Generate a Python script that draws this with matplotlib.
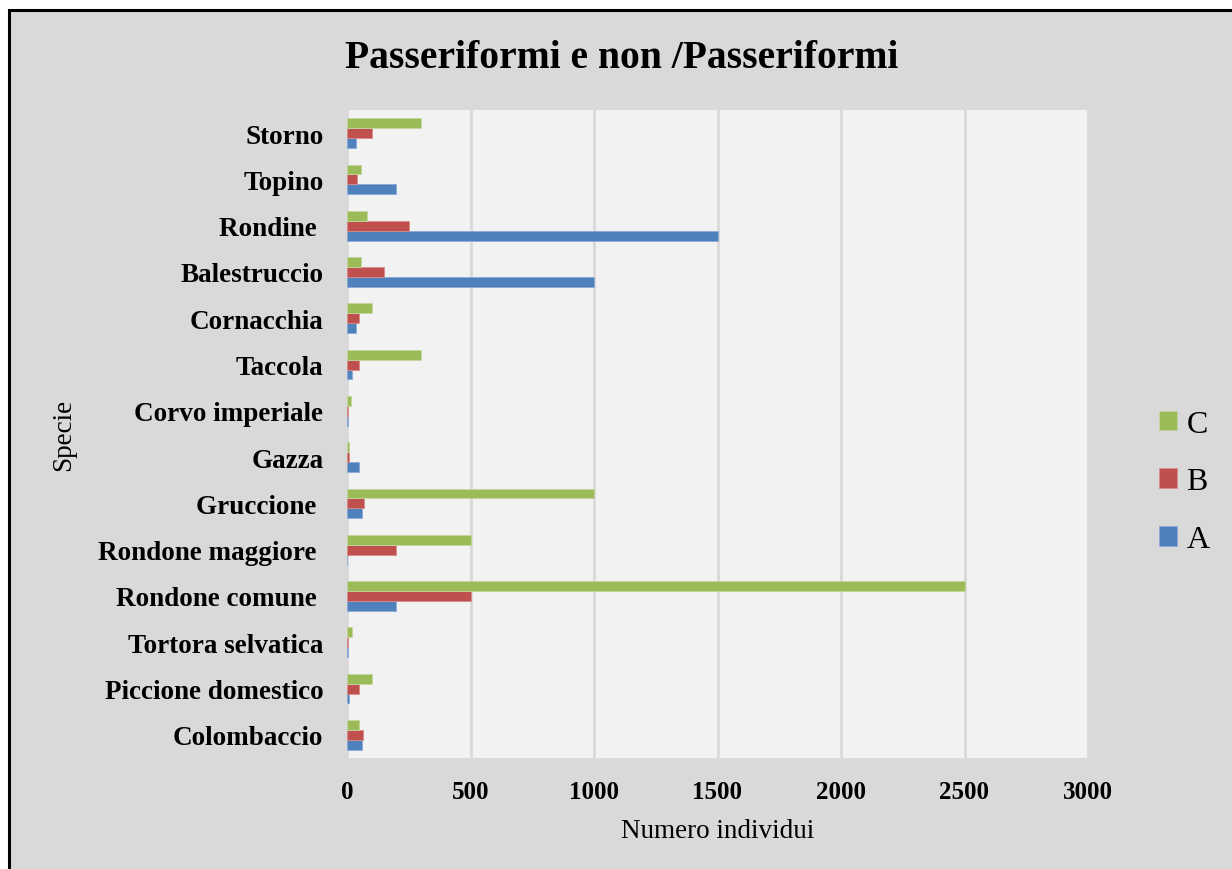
import matplotlib.pyplot as plt
import numpy as np
from matplotlib.patches import Rectangle

# dati
specie = ["Colombaccio", "Piccione domestico", "Tortora selvatica", "Rondone comune ",
          "Rondone maggiore ", "Gruccione ", "Gazza", "Corvo imperiale", "Taccola",
          "Cornacchia", "Balestruccio", "Rondine ", "Topino", "Storno"]
serie_a = [60, 10, 5, 200, 0, 60, 50, 5, 20, 35, 1000, 1500, 200, 35]
serie_b = [65, 50, 5, 500, 200, 70, 10, 5, 50, 50, 150, 250, 40, 100]
serie_c = [50, 100, 20, 2500, 500, 1000, 10, 15, 300, 100, 55, 80, 55, 300]
x_ticks = [0, 500, 1000, 1500, 2000, 2500, 3000]

plt.rcParams['font.family'] = ['Liberation Serif', 'DejaVu Serif']

fig = plt.figure(figsize=(12.32, 8.7), dpi=100, facecolor="white")
W, H = 1232, 870
# area del grafico con bordo
fig.patches.append(Rectangle((9 / W, -0.05), 1.1, (870 - 11) / H + 0.05,
                             transform=fig.transFigure, facecolor="#D9D9D9",
                             edgecolor="black", linewidth=2.2, zorder=-10))

ax = fig.add_axes([347 / W, 1 - 759 / H, (1088 - 347) / W, (759 - 111) / H])
ax.set_facecolor("#F2F2F2")

y = np.arange(len(specie))
h = 0.215
ax.barh(y - h, serie_a, height=h, color="#4F81BD", edgecolor="#8EAAD6", linewidth=0.6, label="A", zorder=3)
ax.barh(y, serie_b, height=h, color="#C0504D", edgecolor="#D68C8A", linewidth=0.6, label="B", zorder=3)
ax.barh(y + h, serie_c, height=h, color="#9BBB59", edgecolor="#C3D69B", linewidth=0.6, label="C", zorder=3)

ax.set_xlim(0, 3000)
ax.set_ylim(-0.5, len(specie) - 0.5)
ax.set_xticks(x_ticks)
ax.set_xticklabels([str(t) for t in x_ticks], fontsize=18, fontweight="bold")
ax.set_yticks(y)
ax.set_yticklabels(specie, fontsize=19.5, fontweight="bold")
ax.tick_params(length=0, pad=16)
ax.tick_params(axis="y", pad=17)
ax.grid(axis="x", color="#D9D9D9", linewidth=2, zorder=1)
for s in ax.spines.values():
    s.set_visible(False)

ax.set_xlabel("Numero individui", fontsize=19.5, labelpad=11)
ax.set_ylabel("Specie", fontsize=19.5, labelpad=0)
ax.yaxis.set_label_coords(-0.366, 0.5)

fig.text(622 / W, 1 - 58 / H, "Passeriformi e non /Passeriformi", ha="center", va="center",
         fontsize=28.5, fontweight="bold")

handles, labels = ax.get_legend_handles_labels()
leg = fig.legend(handles[::-1], labels[::-1], loc="center left", bbox_to_anchor=(1159 / W, 1 - 483 / H),
                 frameon=False, fontsize=23, handlelength=0.56, handleheight=0.56,
                 labelspacing=0.9, handletextpad=0.3, borderpad=0, borderaxespad=0)

fig.savefig("out.png", dpi=100, facecolor=fig.get_facecolor())
